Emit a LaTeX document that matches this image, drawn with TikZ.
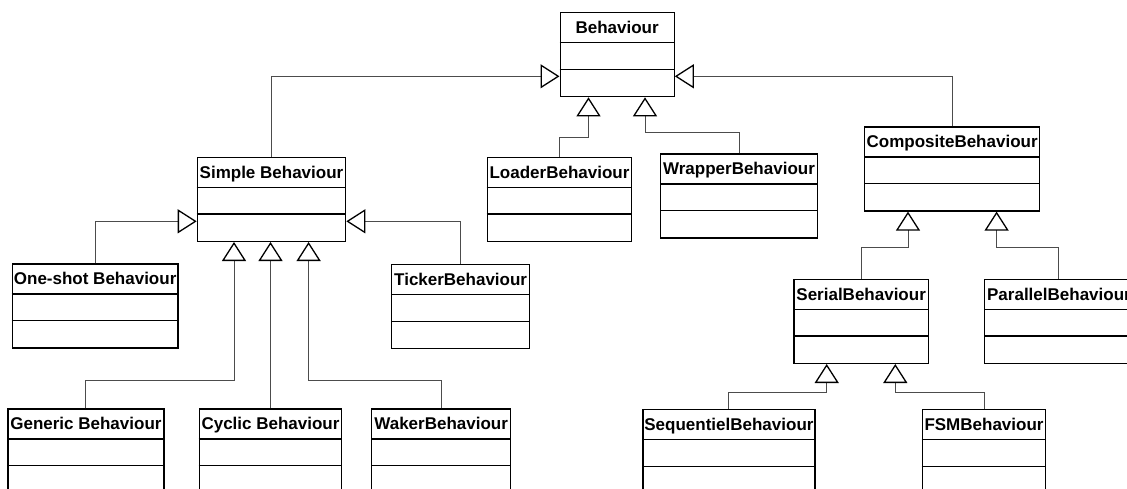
\documentclass[tikz,border=0pt]{standalone}
\usepackage{fontspec}
\setmainfont{Liberation Sans}
\usetikzlibrary{arrows.meta}
\definecolor{conn}{gray}{0.3}
\tikzset{
  clsbox/.style={draw=black, line width=1.3pt, inner sep=0pt, minimum height=84pt, fill=white},
  clstitle/.style={inner sep=0pt, minimum height=30.8pt, text height=13pt, text depth=1.3pt,
    font=\fontsize{17}{19}\selectfont\bfseries},
  clsline/.style={draw=black, line width=1.3pt},
  inh/.style={draw=conn, line width=1pt,
    -{Triangle[open, length=19pt, width=24pt, line width=1.3pt, color=black]}},
}
\newcommand{\umlbox}[5]{%
  \node[clsbox, minimum width={(#4-#2)*1pt}, anchor=north west] (#1) at (#2,#3) {};
  \node[clstitle, anchor=north] (#1-t) at (#1.north) {#5};
  \draw[clsline] (#2,#3+30.8) -- (#4,#3+30.8);
  \draw[clsline] (#2,#3+57.4) -- (#4,#3+57.4);
}
\begin{document}
\begin{tikzpicture}[x=1pt,y=-1pt]
\useasboundingbox (0,0) rectangle (1127,488);
\clip (0,0) rectangle (1127,488);
\fill[white] (0,0) rectangle (1127,488);
\umlbox{beh}{559.5}{12}{673.5}{Behaviour}
\umlbox{simple}{196.7}{156.7}{345}{Simple Behaviour}
\umlbox{loader}{486.7}{156.7}{631}{LoaderBehaviour}
\umlbox{wrap}{660}{153.3}{816.7}{WrapperBehaviour}
\umlbox{comp}{864}{126.3}{1039}{CompositeBehaviour}
\umlbox{oneshot}{11.7}{263.3}{177.3}{One-shot Behaviour}
\umlbox{ticker}{391}{264}{529}{TickerBehaviour}
\umlbox{serial}{793.3}{278.7}{927.7}{SerialBehaviour}
\umlbox{parallel}{984}{278.7}{1132.6}{ParallelBehaviour}
\umlbox{generic}{7.3}{408.3}{163.3}{Generic Behaviour}
\umlbox{cyclic}{198.7}{408.3}{341}{Cyclic Behaviour}
\umlbox{waker}{371}{408.3}{510}{WakerBehaviour}
\umlbox{seq}{642.3}{409}{814.3}{SequentielBehaviour}
\umlbox{fsm}{921.7}{409}{1045}{FSMBehaviour}
% connectors
\draw[inh] (simple.north) |- ([yshift=21pt]beh.south west);
\draw[inh] (comp.north) |- ([yshift=21pt]beh.south east);
\draw[inh] (loader.north) -- ++(0,-19.5) -| ([xshift=29pt]beh.south west);
\draw[inh] (wrap.north) -- ++(0,-20.6) -| ([xshift=85.5pt]beh.south west);
\draw[inh] (oneshot.north) |- ([yshift=20.7pt]simple.south west);
\draw[inh] (ticker.north) |- ([yshift=20.7pt]simple.south east);
\draw[inh] (generic.north) -- ++(0,-28.3) -| ([xshift=37.3pt]simple.south west);
\draw[inh] (cyclic.north) -- (cyclic.north |- simple.south);
\draw[inh] (waker.north) -- ++(0,-28.3) -| ([xshift=-37.7pt]simple.south east);
\draw[inh] (serial.north) -- ++(0,-31.4) -| ([xshift=44pt]comp.south west);
\draw[inh] (parallel.north) -- ++(0,-31.4) -| ([xshift=-43.7pt]comp.south east);
\draw[inh] (seq.north) -- ++(0,-16.3) -| ([xshift=33.4pt]serial.south west);
\draw[inh] (fsm.north) -- ++(0,-16.3) -| ([xshift=-33.7pt]serial.south east);
\end{tikzpicture}
\end{document}
